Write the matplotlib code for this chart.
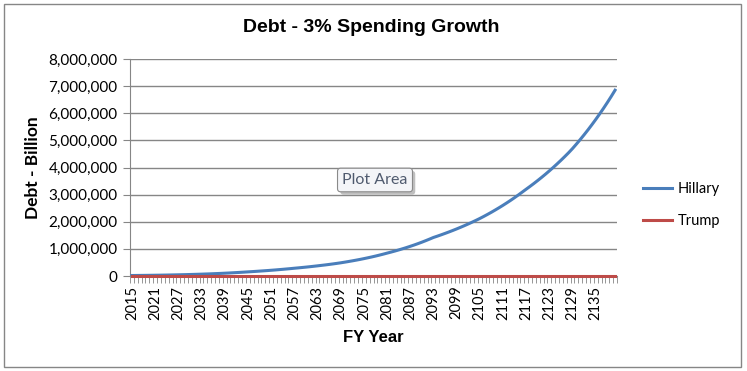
import matplotlib.pyplot as plt
import matplotlib.patheffects as pe
from matplotlib.patches import Rectangle
from matplotlib.ticker import FuncFormatter

years = list(range(2015, 2141))

# debt in billions
hillary = [
    18000, 19500, 21000, 22500, 24000, 26000, 28000, 30000, 32500, 35000,
    38000, 41000, 44000, 47500, 51000, 55000, 59000, 63500, 68000, 73000,
    78000, 84000, 90000, 96000, 103000, 110000, 118000, 126000, 134000, 143000,
    152000, 161000, 170000, 180000, 190000, 200000, 211000, 222000, 234000, 246000,
    259000, 272000, 286000, 299000, 313000, 327000, 342000, 358000, 374000, 391000,
    408000, 426000, 445000, 465000, 486000, 509000, 533000, 558000, 584000, 611000,
    640000, 670000, 701000, 734000, 769000, 805000, 843000, 880000, 919000, 960000,
    1003000, 1047000, 1094000, 1142000, 1193000, 1246000, 1302000, 1360000, 1420000, 1468000,
    1518000, 1570000, 1623000, 1678000, 1735000, 1794000, 1855000, 1918000, 1983000, 2050000,
    2120000, 2194000, 2271000, 2350000, 2433000, 2518000, 2606000, 2697000, 2791000, 2889000,
    2990000, 3095000, 3200000, 3304000, 3411000, 3522000, 3636000, 3754000, 3876000, 4002000,
    4132000, 4266000, 4405000, 4548000, 4700000, 4864000, 5033000, 5208000, 5389000, 5577000,
    5771000, 5972000, 6180000, 6395000, 6618000, 6850000,
]
trump = [0] * len(years)

grid_col = "#868686"
num_font = "Lato"

fig = plt.figure(figsize=(7.47, 3.71), dpi=100)
ax = fig.add_axes([130 / 747, 1 - 276 / 371, 487 / 747, 217 / 371])

x = list(range(len(years)))
ax.plot(x, hillary, color="#4A7EBB", lw=2.2, label="Hillary", zorder=3)
ax.plot(x, trump, color="#BE4B48", lw=2.2, label="Trump", zorder=4, clip_on=False)

ax.set_xlim(-0.5, len(years) - 0.5)
ax.set_ylim(0, 8000000)
ax.set_yticks(range(0, 8000001, 1000000))
ax.yaxis.set_major_formatter(FuncFormatter(lambda v, p: f"{int(v):,}"))
ax.grid(axis="y", color=grid_col, lw=1)
ax.set_axisbelow(True)

# labels every 6 years, tick marks between every category
ax.set_xticks(x[::6])
ax.set_xticklabels([str(y) for y in years[::6]], rotation=90)
ax.set_xticks([i - 0.5 for i in range(len(years) + 1)], minor=True)
ax.tick_params(axis="x", which="major", length=0, pad=7)
ax.tick_params(axis="x", which="minor", length=5, color=grid_col)
ax.tick_params(axis="y", length=5, color=grid_col, pad=4)
for lab in ax.get_xticklabels():
    lab.set_fontfamily(num_font)
    lab.set_fontsize(10.5)
for lab in ax.get_yticklabels():
    lab.set_fontfamily(num_font)
    lab.set_fontsize(11)

for s in ["top", "right"]:
    ax.spines[s].set_visible(False)
ax.spines["left"].set_color(grid_col)
ax.spines["bottom"].set_color(grid_col)

fig.text(371 / 747, 1 - 28 / 371, "Debt - 3% Spending Growth", ha="center", va="center",
         fontsize=14, fontweight="bold", family="Liberation Sans")
fig.text(33 / 747, 1 - 168 / 371, "Debt - Billion", ha="center", va="center", rotation=90,
         fontsize=12.5, fontweight="bold", family=num_font)
fig.text(373 / 747, 1 - 337 / 371, "FY Year", ha="center", va="center",
         fontsize=12, fontweight="bold", family="Liberation Sans")

# hover tooltip left in the screenshot
tip = fig.text(375 / 747, 1 - 180 / 371, "Plot Area", ha="center", va="center", fontsize=11.5,
               family=num_font, color="#4F5A6E",
               bbox=dict(boxstyle="round,pad=0.3,rounding_size=0.2", fc="#F4F5F8", ec="#8A8A8A", lw=0.8))
tip.get_bbox_patch().set_path_effects([pe.SimplePatchShadow(offset=(2, -2), alpha=0.35), pe.Normal()])

leg = fig.legend(loc="center left", bbox_to_anchor=(630 / 747, 1 - 205 / 371), frameon=False,
                 prop={"family": num_font, "size": 10.5}, handlelength=2.0, handletextpad=0.35,
                 labelspacing=1.25)

fig.add_artist(Rectangle((4 / 747, 4 / 371), 737 / 747, 363 / 371, transform=fig.transFigure,
                         fill=False, ec=grid_col, lw=1))

fig.savefig("out.png", dpi=100)
